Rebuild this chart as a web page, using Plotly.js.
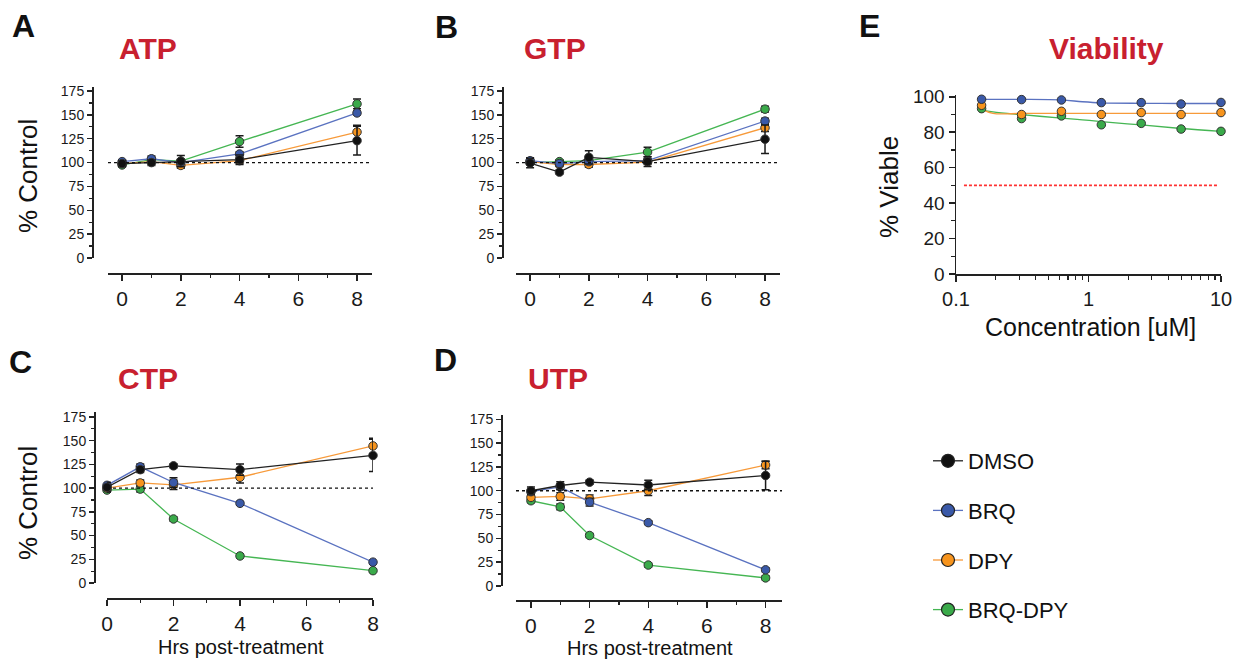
<!DOCTYPE html>
<html>
<head>
<meta charset="utf-8">
<script src="https://cdn.plot.ly/plotly-3.0.1.min.js"></script>
<style>html,body{margin:0;padding:0;background:#fff;}#chart{width:1240px;height:662px;}</style>
</head>
<body>
<div id="chart"></div>
<script>
// ---------- data ----------
const hrs = [0, 1, 2, 4, 8];
const seriesNames = ["DMSO", "BRQ", "DPY", "BRQ-DPY"];

const atpDMSO = [99, 100, 101.5, 103, 123];      const atpDMSOerr = [3, 3, 6, 5, 15];
const atpBRQ = [101, 104, 100, 109, 152];        const atpBRQerr = [2, 3, 2, 2, 2];
const atpDPY = [99, 101, 97, 102, 132];          const atpDPYerr = [2, 2, 3, 3, 7];
const atpBD = [97.5, 103, 101.5, 122, 161.5];    const atpBDerr = [2, 2, 2, 6, 5];

const gtpDMSO = [99.5, 90, 105.5, 101, 124.5];   const gtpDMSOerr = [5, 2, 7, 5, 15];
const gtpBRQ = [102, 99, 101, 102, 143.5];       const gtpBRQerr = [3, 2, 2, 2, 3];
const gtpDPY = [101, 98, 98, 100.5, 136.5];      const gtpDPYerr = [2, 2, 3, 2, 4];
const gtpBD = [100, 101, 102, 111, 156];         const gtpBDerr = [2, 2, 2, 5, 3];

const ctpDMSO = [101, 119.5, 123.5, 119.5, 134.5]; const ctpDMSOerr = [5, 3, 2, 6, 17];
const ctpBRQ = [103, 122.5, 106, 84, 22];          const ctpBRQerr = [3, 3, 5, 2, 2];
const ctpDPY = [100, 105.5, 103.5, 111.5, 144.5];  const ctpDPYerr = [3, 3, 5, 6, 8];
const ctpBD = [98, 99, 67.5, 28.5, 13];            const ctpBDerr = [2, 3, 2, 2, 2];

const utpDMSO = [100, 105.5, 109, 106, 116];     const utpDMSOerr = [4, 4, 2, 5, 15];
const utpBRQ = [99, 104, 88, 66.5, 17];          const utpBRQerr = [2, 3, 4, 2, 2];
const utpDPY = [93, 94, 91.5, 100, 127];         const utpDPYerr = [2, 4, 4, 5, 4];
const utpBD = [89.5, 83, 53, 22, 8.5];           const utpBDerr = [2, 3, 2, 2, 2];

const conc = [0.156, 0.3125, 0.625, 1.25, 2.5, 5, 10];
const viaBRQ = [98.6, 98.4, 98.2, 96.7, 96.7, 95.9, 96.8];
const viaDPY = [95.2, 90, 91.8, 90, 91.1, 90, 91.1];
const viaBD = [93.3, 87.7, 89.2, 84.2, 85, 81.8, 80.5];

// fitted curves
const fitConc = [0.156, 0.19, 0.3125, 0.625, 0.9, 1.25, 2.5, 5, 10];
const fitBRQ = [98.5, 98.5, 98.5, 98.2, 97.2, 96.6, 96.3, 96.2, 96.2];
const fitDPY = [93.0, 90.6, 90.6, 90.6, 90.6, 90.6, 90.6, 90.6, 90.6];
const fitBD = [92.6, 91.5, 89.9, 88.0, 87.0, 86.0, 84.1, 82.1, 80.5];

const yTicksHrs = [0, 25, 50, 75, 100, 125, 150, 175];
const xTicksHrs = [0, 2, 4, 6, 8];
const yTicksVia = [0, 20, 40, 60, 80, 100];
const xTicksConc = [0.1, 1, 10];
const xTickTextConc = ["0.1", "1", "10"];

// ---------- styles ----------
const FONT = "Liberation Sans, Arial, Helvetica, sans-serif";
const colors = {"DMSO": "#111111", "BRQ": "#3a59a8", "DPY": "#f7941d", "BRQ-DPY": "#3aaa4a"};
const lineColors = {"DMSO": "#222222", "BRQ": "#5a72c0", "DPY": "#f79a3a", "BRQ-DPY": "#45b653"};
const rank = {"DMSO": 1, "BRQ": 2, "DPY": 3, "BRQ-DPY": 4};
const AX = "#222222";

function panelTraces(xa, ya, vals, errs) {
  const order = ["BRQ-DPY", "DPY", "BRQ", "DMSO"];
  return order.map(name => {
    const i = seriesNames.indexOf(name);
    return {
      type: "scatter", mode: "lines+markers", name: name,
      x: hrs, y: vals[i], xaxis: xa, yaxis: ya,
      error_y: {type: "data", array: errs[i], visible: true, color: "#1a1a1a", thickness: 1.5, width: 4},
      line: {color: lineColors[name], width: 1.3},
      marker: {color: colors[name], size: 8.5, line: {color: "#333333", width: 1}},
      cliponaxis: false, showlegend: false
    };
  });
}

const traces = [].concat(
  panelTraces("x", "y", [atpDMSO, atpBRQ, atpDPY, atpBD], [atpDMSOerr, atpBRQerr, atpDPYerr, atpBDerr]),
  panelTraces("x2", "y2", [gtpDMSO, gtpBRQ, gtpDPY, gtpBD], [gtpDMSOerr, gtpBRQerr, gtpDPYerr, gtpBDerr]),
  panelTraces("x3", "y3", [ctpDMSO, ctpBRQ, ctpDPY, ctpBD], [ctpDMSOerr, ctpBRQerr, ctpDPYerr, ctpBDerr]),
  panelTraces("x4", "y4", [utpDMSO, utpBRQ, utpDPY, utpBD], [utpDMSOerr, utpBRQerr, utpDPYerr, utpBDerr])
);

// viability fit curves
[["BRQ-DPY", fitBD], ["DPY", fitDPY], ["BRQ", fitBRQ]].forEach(([name, v]) => {
  traces.push({type: "scatter", mode: "lines", x: fitConc, y: v, xaxis: "x5", yaxis: "y5",
    line: {color: lineColors[name], width: 1.3, shape: "spline"}, showlegend: false, hoverinfo: "skip"});
});
[["BRQ-DPY", viaBD], ["DPY", viaDPY], ["BRQ", viaBRQ]].forEach(([name, v]) => {
  traces.push({type: "scatter", mode: "markers", name: name, x: conc, y: v, xaxis: "x5", yaxis: "y5",
    marker: {color: colors[name], size: 8.5, line: {color: "#333333", width: 1}},
    cliponaxis: false, showlegend: false});
});

// legend-only entries (larger key symbols, as in the figure)
seriesNames.forEach(name => {
  traces.push({type: "scatter", mode: "lines+markers", name: name, x: [null], y: [null],
    xaxis: "x5", yaxis: "y5", line: {color: lineColors[name], width: 1.3},
    marker: {color: colors[name], size: 13, line: {color: "#222222", width: 1.2}},
    showlegend: true, legendgroup: name, legendrank: rank[name]});
});

// ---------- layout ----------
const W = 1240, H = 662;
const px = v => v / W;
const py = v => 1 - v / H;

function hrsX(d0, d1, r0, r1, pos) {
  return {domain: [px(d0), px(d1)], range: [r0, r1], anchor: "free", position: pos,
    showgrid: false, zeroline: false, showline: true, linecolor: AX, linewidth: 1.5,
    tickmode: "array", tickvals: xTicksHrs, ticks: "outside", ticklen: 6, tickwidth: 1.5, tickcolor: AX,
    minor: {tickmode: "linear", tick0: 0, dtick: 1, ticks: "outside", ticklen: 3, tickwidth: 1.2, tickcolor: AX},
    tickfont: {family: FONT, size: 21, color: "#1a1a1a"}, fixedrange: true};
}
function hrsY(d0, d1, top, pos) {
  return {domain: [py(d0), py(d1)], range: [0, top], anchor: "free", position: pos,
    showgrid: false, zeroline: false, showline: true, linecolor: AX, linewidth: 1.5,
    tickmode: "array", tickvals: yTicksHrs, ticks: "outside", ticklen: 5, tickwidth: 1.5, tickcolor: AX,
    minor: {tickmode: "linear", tick0: 0, dtick: 12.5, ticks: "outside", ticklen: 3, tickwidth: 1.2, tickcolor: AX},
    tickfont: {family: FONT, size: 14, color: "#1a1a1a"}, fixedrange: true};
}

function ann(text, x, y, size, opts) {
  return Object.assign({text: text, x: px(x), y: py(y), xref: "paper", yref: "paper",
    showarrow: false, font: {family: FONT, size: size, color: "#111"}}, opts || {});
}
const RED = "#c8202f";

const layout = {
  width: W, height: H, margin: {l: 0, r: 0, t: 0, b: 0},
  paper_bgcolor: "#ffffff", plot_bgcolor: "rgba(0,0,0,0)",
  font: {family: FONT, color: "#111"},
  xaxis: hrsX(108, 372, -0.48, 8.51, py(273)),
  yaxis: hrsY(258, 87, 179.2, px(92)),
  xaxis2: hrsX(516, 780, -0.48, 8.51, py(273)),
  yaxis2: hrsY(258, 87, 179.2, px(502)),
  xaxis3: hrsX(107, 373, 0, 8, py(598)),
  yaxis3: hrsY(583, 412, 180.3, px(94)),
  xaxis4: hrsX(516, 782, -0.51, 8.56, py(600)),
  yaxis4: hrsY(586, 415, 179.5, px(501)),
  xaxis5: {domain: [px(956), px(1221)], type: "log", range: [-1, 1], anchor: "y5",
    showgrid: false, zeroline: false, showline: true, linecolor: AX, linewidth: 1.5,
    tickmode: "array", tickvals: xTicksConc, ticktext: xTickTextConc,
    ticks: "outside", ticklen: 6, tickwidth: 1.5, tickcolor: AX,
    minor: {tickmode: "array", tickvals: [0.2,0.3,0.4,0.5,0.6,0.7,0.8,0.9,2,3,4,5,6,7,8,9], ticks: "outside", ticklen: 4, tickwidth: 1.2, tickcolor: AX},
    tickfont: {family: FONT, size: 20, color: "#1a1a1a"}, fixedrange: true},
  yaxis5: {domain: [py(274), py(95)], range: [0, 101], anchor: "x5",
    showgrid: false, zeroline: false, showline: true, linecolor: AX, linewidth: 1.5,
    tickmode: "array", tickvals: yTicksVia, ticks: "outside", ticklen: 6, tickwidth: 1.5, tickcolor: AX,
    minor: {tickmode: "linear", tick0: 0, dtick: 10, ticks: "outside", ticklen: 4, tickwidth: 1.2, tickcolor: AX},
    tickfont: {family: FONT, size: 19, color: "#1a1a1a"}, fixedrange: true},
  shapes: [
    {type: "line", xref: "x domain", yref: "y", x0: 0, x1: 1, y0: 100, y1: 100, line: {color: "#111", width: 1.3, dash: "dot"}},
    {type: "line", xref: "x2 domain", yref: "y2", x0: 0, x1: 1, y0: 100, y1: 100, line: {color: "#111", width: 1.3, dash: "dot"}},
    {type: "line", xref: "x3 domain", yref: "y3", x0: 0, x1: 1, y0: 100, y1: 100, line: {color: "#111", width: 1.3, dash: "dot"}},
    {type: "line", xref: "x4 domain", yref: "y4", x0: 0, x1: 1, y0: 100, y1: 100, line: {color: "#111", width: 1.3, dash: "dot"}},
    {type: "line", xref: "x5 domain", yref: "y5", x0: 0.03, x1: 0.99, y0: 50, y1: 50, line: {color: "#ff3030", width: 1.6, dash: "3px,2px"}}
  ],
  annotations: [
    ann("<b>A</b>", 10, 26, 32, {xanchor: "left", yanchor: "middle"}),
    ann("<b>B</b>", 433, 27, 32, {xanchor: "left", yanchor: "middle"}),
    ann("<b>C</b>", 7, 362, 32, {xanchor: "left", yanchor: "middle"}),
    ann("<b>D</b>", 432, 360, 32, {xanchor: "left", yanchor: "middle"}),
    ann("<b>E</b>", 857, 26, 32, {xanchor: "left", yanchor: "middle"}),
    ann("<b>ATP</b>", 117, 49, 30, {xanchor: "left", yanchor: "middle", font: {family: FONT, size: 30, color: RED}}),
    ann("<b>GTP</b>", 522, 49, 30, {xanchor: "left", yanchor: "middle", font: {family: FONT, size: 30, color: RED}}),
    ann("<b>CTP</b>", 116, 378, 30, {xanchor: "left", yanchor: "middle", font: {family: FONT, size: 30, color: RED}}),
    ann("<b>UTP</b>", 526, 378, 30, {xanchor: "left", yanchor: "middle", font: {family: FONT, size: 30, color: RED}}),
    ann("<b>Viability</b>", 1106, 49, 30, {xanchor: "center", yanchor: "middle", font: {family: FONT, size: 30, color: RED}}),
    ann("% Control", 28, 176, 26, {textangle: -90, xanchor: "center", yanchor: "middle"}),
    ann("% Control", 28, 503, 26, {textangle: -90, xanchor: "center", yanchor: "middle"}),
    ann("% Viable", 889, 187, 26, {textangle: -90, xanchor: "center", yanchor: "middle"}),
    ann("Hrs post-treatment", 241, 647, 20, {xanchor: "center", yanchor: "middle"}),
    ann("Hrs post-treatment", 650, 648, 20, {xanchor: "center", yanchor: "middle"}),
    ann("Concentration [uM]", 1090, 327, 25, {xanchor: "center", yanchor: "middle"})
  ],
  legend: {x: px(928), y: py(440), xanchor: "left", yanchor: "top", traceorder: "grouped",
    tracegroupgap: 18, font: {family: FONT, size: 22, color: "#111"}, bgcolor: "rgba(0,0,0,0)", borderwidth: 0},
  hovermode: false
};

Plotly.newPlot("chart", traces, layout, {staticPlot: true, displayModeBar: false});
</script>
</body>
</html>
